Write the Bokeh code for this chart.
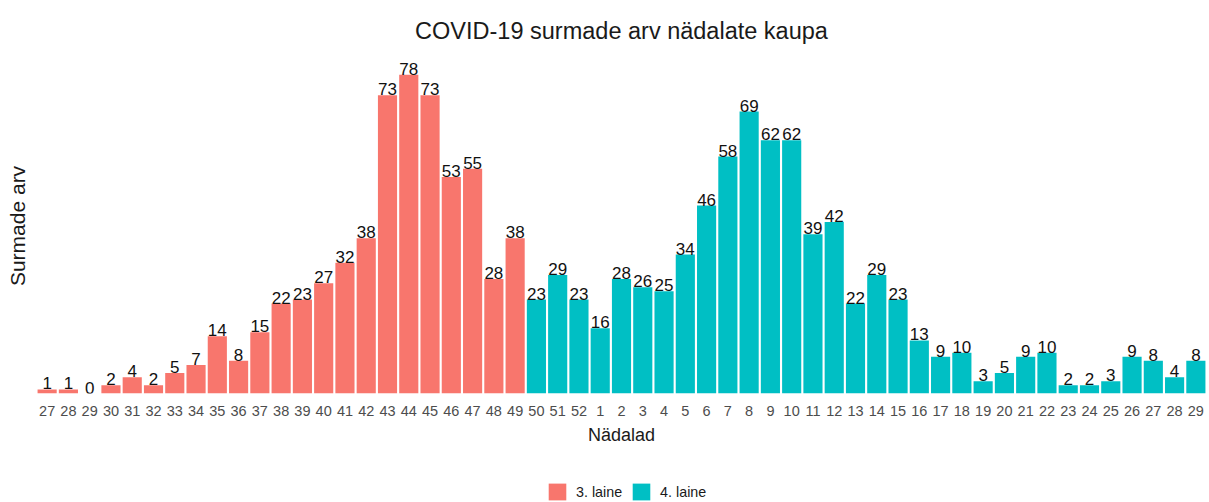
from bokeh.plotting import figure
from bokeh.models import ColumnDataSource, Range1d, FixedTicker, Legend, LegendItem
from bokeh.layouts import column
from bokeh.embed import file_html
from bokeh.resources import INLINE
from bokeh.core.properties import value

# --- data ---
weeks_3 = [27, 28, 29, 30, 31, 32, 33, 34, 35, 36, 37, 38, 39, 40, 41, 42, 43, 44, 45, 46, 47, 48, 49]
deaths_3 = [1, 1, 0, 2, 4, 2, 5, 7, 14, 8, 15, 22, 23, 27, 32, 38, 73, 78, 73, 53, 55, 28, 38]
weeks_4 = [50, 51, 52, 1, 2, 3, 4, 5, 6, 7, 8, 9, 10, 11, 12, 13, 14, 15, 16, 17, 18, 19, 20,
           21, 22, 23, 24, 25, 26, 27, 28, 29]
deaths_4 = [23, 29, 23, 16, 28, 26, 25, 34, 46, 58, 69, 62, 62, 39, 42, 22, 29, 23, 13, 9, 10, 3, 5,
            9, 10, 2, 2, 3, 9, 8, 4, 8]
wave_labels = ["3. laine", "4. laine"]
wave_colors = ["#F8766D", "#00BFC4"]

all_weeks = weeks_3 + weeks_4
idx_3 = list(range(len(weeks_3)))
idx_4 = list(range(len(weeks_3), len(all_weeks)))

FONT = "Liberation Sans"

src3 = ColumnDataSource(dict(x=idx_3, y=deaths_3, t=[str(v) for v in deaths_3]))
src4 = ColumnDataSource(dict(x=idx_4, y=deaths_4, t=[str(v) for v in deaths_4]))

p = figure(width=1209, height=470, output_backend="svg", toolbar_location=None,
           x_range=Range1d(-0.5, len(all_weeks) - 0.5), y_range=Range1d(0, 82),
           min_border_left=36, min_border_right=3, min_border_top=58, min_border_bottom=77)

p.title.text = "COVID-19 surmade arv nädalate kaupa"
p.title.align = "center"
p.title.text_font = FONT
p.title.text_font_size = "23.5px"
p.title.text_font_style = "normal"
p.title.text_color = "#1a1a1a"
p.title.standoff = 29

r3 = p.vbar(x="x", top="y", width=0.9, fill_color=wave_colors[0], line_color=None, source=src3)
r4 = p.vbar(x="x", top="y", width=0.9, fill_color=wave_colors[1], line_color=None, source=src4)

for s in (src3, src4):
    p.text(x="x", y="y", text="t", source=s, text_align="center", text_baseline="bottom",
           y_offset=0, text_font=value(FONT), text_font_size="17px", text_color="#111111")

p.xgrid.visible = False
p.ygrid.visible = False
p.outline_line_color = None

xa = p.xaxis[0]
xa.ticker = FixedTicker(ticks=list(range(len(all_weeks))))
xa.major_label_overrides = {i: str(w) for i, w in enumerate(all_weeks)}
xa.major_tick_line_color = None
xa.major_tick_out = 0
xa.major_tick_in = 0
xa.minor_tick_line_color = None
xa.minor_tick_out = 0
xa.axis_line_color = None
xa.major_label_text_font = FONT
xa.major_label_text_font_size = "14.5px"
xa.major_label_text_color = "#4d4d4d"
xa.major_label_standoff = 12
xa.axis_label = "Nädalad"
xa.axis_label_text_font = FONT
xa.axis_label_text_font_size = "18px"
xa.axis_label_text_font_style = "normal"
xa.axis_label_text_color = "#1a1a1a"
xa.axis_label_standoff = 6

ya = p.yaxis[0]
ya.ticker = FixedTicker(ticks=[])
ya.major_tick_line_color = None
ya.major_tick_out = 0
ya.minor_tick_line_color = None
ya.minor_tick_out = 0
ya.axis_line_color = None
ya.major_label_text_font_size = "0px"
ya.axis_label = "Surmade arv"
ya.axis_label_text_font = FONT
ya.axis_label_text_font_size = "21px"
ya.axis_label_text_font_style = "normal"
ya.axis_label_text_color = "#1a1a1a"
ya.axis_label_standoff = 8

# legend strip below the chart (its bars are hidden; only the legend shows)
lf = figure(width=1209, height=32, output_backend="svg", toolbar_location=None,
            x_axis_type=None, y_axis_type=None, x_range=Range1d(-0.5, len(all_weeks) - 0.5),
            y_range=Range1d(-1000, -999), min_border=0)
lf.outline_line_color = None
lf.xgrid.visible = False
lf.ygrid.visible = False
l3 = lf.vbar(x="x", top="y", width=0.9, fill_color=wave_colors[0], line_color=None, source=src3)
l4 = lf.vbar(x="x", top="y", width=0.9, fill_color=wave_colors[1], line_color=None, source=src4)
l3.visible = False
l4.visible = False
legend = Legend(items=[LegendItem(label=wave_labels[0], renderers=[l3]),
                       LegendItem(label=wave_labels[1], renderers=[l4])],
                orientation="horizontal", location=(510, 0), click_policy="none",
                glyph_width=22, glyph_height=21, label_standoff=8, spacing=8,
                label_text_font=FONT, label_text_font_size="14.3px", label_text_color="#1a1a1a",
                padding=0, margin=0, border_line_color=None, background_fill_alpha=0)
lf.add_layout(legend, "center")

layout = column(p, lf, spacing=0)
open("out.html", "w").write(file_html(layout, INLINE))
